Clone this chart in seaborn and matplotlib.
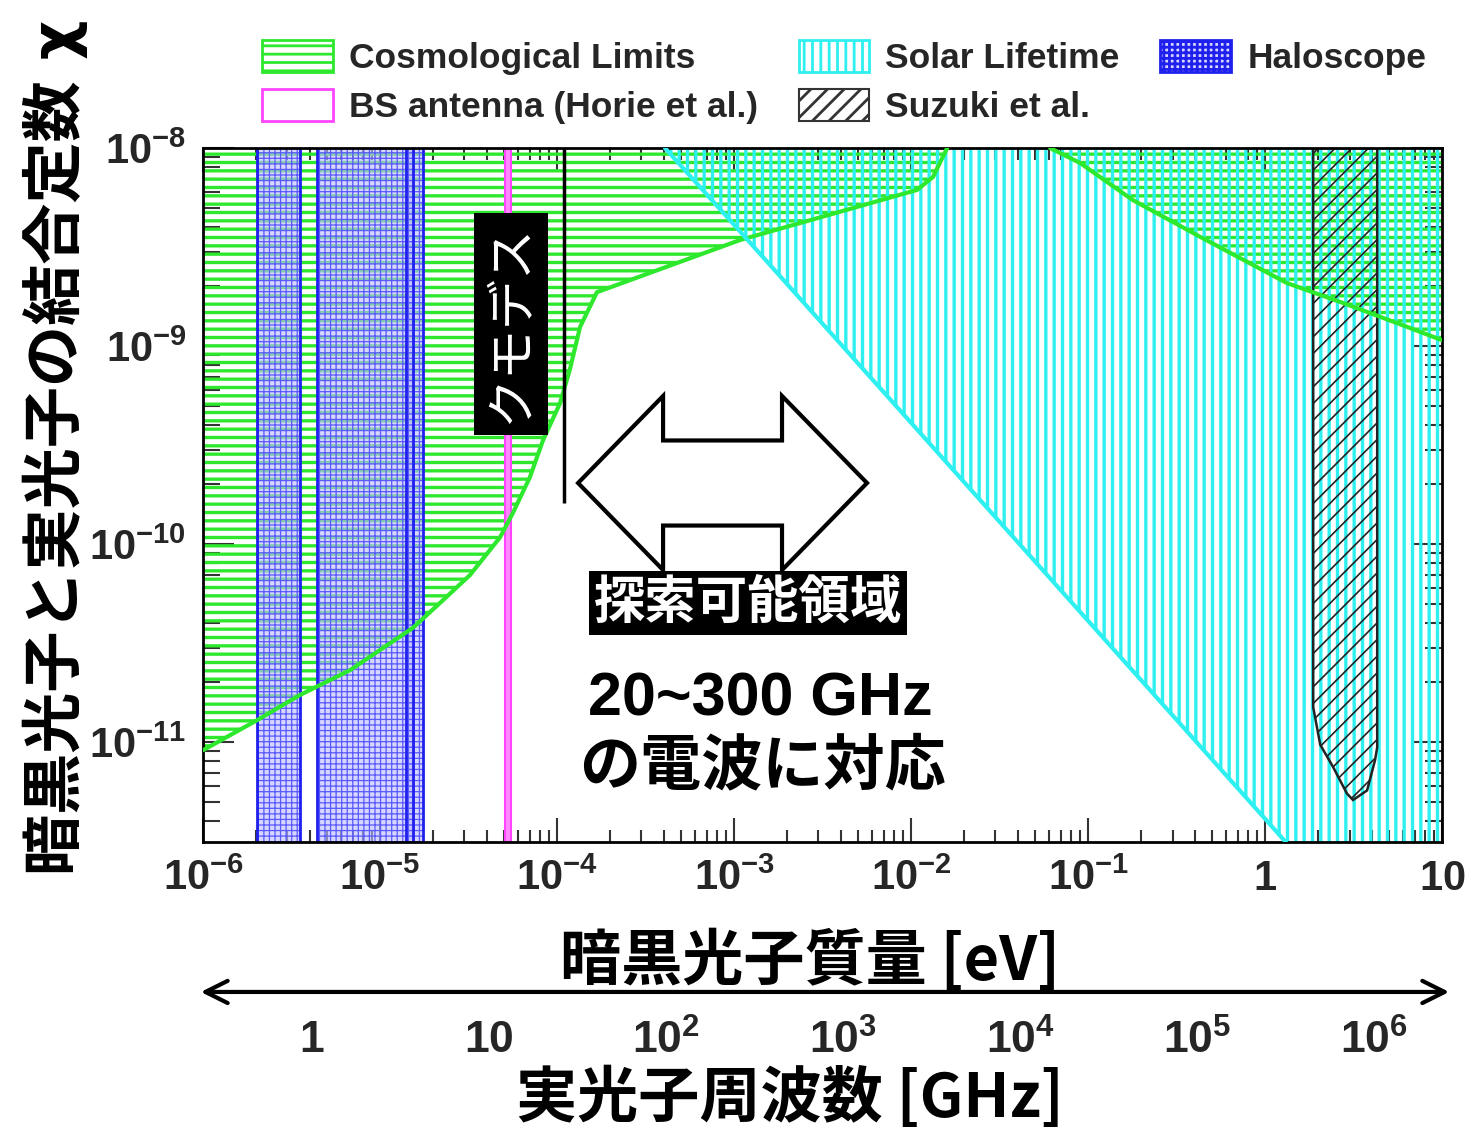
import numpy as np
import pandas as pd
import matplotlib.pyplot as plt
import seaborn as sns
from matplotlib.patches import Patch, Polygon, FancyArrowPatch
from matplotlib.ticker import LogLocator, NullFormatter, NullLocator, FixedLocator, FuncFormatter

# dark photon mass [eV] vs. kinetic mixing chi
cosmo1_m = [1.0e-6, 2.02e-6, 3.53e-6, 6.78e-6, 1.53e-5, 2.18e-5, 3.22e-5, 4.76e-5,
            5.64e-5, 7.03e-5, 8.34e-5, 1.04e-4, 1.18e-4, 1.35e-4, 1.68e-4,
            1.08e-3, 1.08e-2, 1.33e-2, 1.60e-2]
cosmo1_chi = [9.1e-12, 1.29e-11, 1.73e-11, 2.31e-11, 3.77e-11, 5.04e-11, 6.97e-11, 1.08e-10,
              1.44e-10, 2.18e-10, 3.35e-10, 5.15e-10, 7.57e-10, 1.25e-9, 1.87e-9,
              3.43e-9, 6.14e-9, 7.14e-9, 1.0e-8]

cosmo2_m = [6.10e-2, 9.02e-2, 0.179, 0.430, 1.33, 2.76, 6.34, 10.0]
cosmo2_chi = [1.0e-8, 8.4e-9, 5.46e-9, 3.56e-9, 2.08e-9, 1.65e-9, 1.25e-9, 1.07e-9]

solar_m = [4.07e-4, 1.0e-3, 1.0e-2, 1.0e-1, 1.0, 1.32, 10.0]
solar_chi = [1.0e-8, 4.1e-9, 4.1e-10, 4.1e-11, 4.1e-12, 3.1e-12, 3.1e-12]

halo_lo = [2.02e-6, 4.41e-6, 1.40e-5]
halo_hi = [3.53e-6, 1.53e-5, 1.75e-5]

bs_lo, bs_hi = 5.1e-5, 5.5e-5

suzuki_m = [1.87, 1.87, 2.05, 2.42, 2.90, 3.14, 3.77, 4.18, 4.30, 4.30]
suzuki_chi = [1.0e-8, 1.5e-11, 9.7e-12, 7.5e-12, 5.5e-12, 5.1e-12, 5.7e-12, 8.1e-12, 9.4e-12, 1.0e-8]

kumo_m, kumo_lo, kumo_hi = 1.1e-4, 1.62e-10, 1.0e-8

freq_ticks = [1, 10, 1e2, 1e3, 1e4, 1e5, 1e6]   # GHz
GHZ_TO_EV = 4.1357e-6

GREEN = '#2ee82e'
CYAN = '#2ef0f0'
BLUE = '#2020ee'
HALO_HATCH = '#5a5aff'
MAGENTA = '#ff44ff'
HALO_FACE = (0.74, 0.74, 1.0, 0.62)

sns.set_theme(style='ticks')
plt.rcParams['font.family'] = ['Liberation Sans', 'Noto Sans CJK JP', 'DejaVu Sans']
plt.rcParams['mathtext.fontset'] = 'custom'
plt.rcParams['mathtext.rm'] = 'Liberation Sans:bold'
plt.rcParams['mathtext.bf'] = 'Liberation Sans:bold'
plt.rcParams['mathtext.it'] = 'Liberation Sans:bold'
plt.rcParams['mathtext.default'] = 'bf'
plt.rcParams['hatch.linewidth'] = 2.0

JP = ['Noto Sans CJK JP', 'DejaVu Sans']


def hatch_width(artist, lw):
    if hasattr(artist, 'set_hatch_linewidth'):
        artist.set_hatch_linewidth(lw)
    return artist


fig = plt.figure(figsize=(14.7, 11.36), dpi=100)
ax = fig.add_axes([0.1381, 0.2588, 0.8429, 0.6109])
ax.set_xscale('log')
ax.set_yscale('log')
ax.set_xlim(1e-6, 10)
ax.set_ylim(3.13e-12, 1e-8)

# cosmological limits (two pieces)
for m, c in [(cosmo1_m, cosmo1_chi), (cosmo2_m, cosmo2_chi)]:
    hatch_width(ax.fill_between(m, c, 1e-8, facecolor='none', edgecolor=GREEN, hatch='--',
                                linewidth=0, zorder=1), 2.4)
    sns.lineplot(x=m, y=c, ax=ax, color=GREEN, lw=3, errorbar=None, zorder=3)

# solar lifetime
hatch_width(ax.fill_between(solar_m, solar_chi, 1e-8, facecolor='none', edgecolor=CYAN, hatch='||',
                            linewidth=0, zorder=1.1), 2.4)
sns.lineplot(x=solar_m[:6], y=solar_chi[:6], ax=ax, color=CYAN, lw=3, errorbar=None, zorder=3)

# haloscope bands
for lo, hi in zip(halo_lo, halo_hi):
    hatch_width(ax.axvspan(lo, hi, facecolor=HALO_FACE, edgecolor=HALO_HATCH, hatch='+++',
                           linewidth=0, zorder=1.2), 0.9)
    ax.axvline(lo, color=BLUE, lw=2, zorder=1.25)
    ax.axvline(hi, color=BLUE, lw=2, zorder=1.25)

# BS antenna
ax.axvspan(bs_lo, bs_hi, facecolor='#ff88ff', edgecolor=MAGENTA, linewidth=1.5, zorder=1.3)

# Suzuki et al.
hatch_width(ax.fill(suzuki_m, suzuki_chi, facecolor='none', edgecolor='#222222', hatch='//',
                    linewidth=1.8, zorder=1.4)[0], 1.2)

# kumodes limit line
ax.vlines(kumo_m, kumo_lo, kumo_hi, color='black', lw=2.5, zorder=4)

# ticks
ax.xaxis.set_major_locator(LogLocator(base=10, numticks=20))
ax.xaxis.set_minor_locator(LogLocator(base=10, subs=np.arange(2, 10), numticks=20))
ax.xaxis.set_minor_formatter(NullFormatter())
ax.yaxis.set_minor_formatter(NullFormatter())


def xfmt(v, pos):
    e = int(round(np.log10(v)))
    if e == 0:
        return '$1$'
    if e == 1:
        return '$10$'
    return '$10^{%d}$' % e


def yfmt(v, pos):
    return '$10^{%d}$' % int(round(np.log10(v)))


ax.xaxis.set_major_formatter(FuncFormatter(xfmt))
ax.yaxis.set_major_formatter(FuncFormatter(yfmt))
ax.tick_params(axis='both', which='both', direction='in', top=True, right=True, color='#333333', width=1.5)
ax.tick_params(axis='x', which='major', length=17, labelsize=30, pad=12)
ax.tick_params(axis='x', which='minor', length=8.5)
ax.tick_params(axis='y', which='major', length=22, labelsize=30, pad=12)
ax.tick_params(axis='y', which='minor', length=12)
for sp in ax.spines.values():
    sp.set_color('black')
    sp.set_linewidth(2)

ax.set_xlabel('暗黒光子質量 [eV]', family=JP, fontsize=44, weight='bold', color='black')
ax.xaxis.set_label_coords(0.49, -0.172)
ax.xaxis.label.set_va('center')
ax.set_ylabel('暗黒光子と実光子の結合定数 χ', family=['DejaVu Sans', 'Noto Sans CJK JP'],
              fontsize=44, weight='bold', color='black')
ax.yaxis.set_label_coords(-0.119, 0.569)
ax.yaxis.label.set_va('center')

# frequency axis
sec = ax.secondary_xaxis(-0.25, functions=(lambda m: m / GHZ_TO_EV, lambda f: f * GHZ_TO_EV))
sec.xaxis.set_major_locator(FixedLocator(freq_ticks))
sec.xaxis.set_minor_locator(NullLocator())
sec.xaxis.set_major_formatter(FuncFormatter(xfmt))
sec.tick_params(axis='x', length=0, labelsize=32, pad=3)
sec.spines['bottom'].set_visible(False)
sec.set_xlabel('実光子周波数 [GHz]', family=JP, fontsize=44, weight='bold', color='black')
sec.xaxis.set_label_coords(0.4738, -0.37, transform=ax.transAxes)
sec.xaxis.label.set_va('center')

fig.add_artist(FancyArrowPatch((198 / 1470, 0.1268), (1452 / 1470, 0.1268), transform=fig.transFigure,
                               arrowstyle='<->', mutation_scale=40, lw=3, color='black'))

# annotations
ax.text(0.2486, 0.7464, 'クモデス', transform=ax.transAxes, rotation=90, ha='center', va='center',
        color='white', fontsize=36, family=JP,
        bbox=dict(boxstyle='square,pad=0.22', fc='black', ec='none'), zorder=6)
ax.text(0.4399, 0.3444, '探索可能領域', transform=ax.transAxes, ha='center', va='center',
        color='white', fontsize=37, weight='bold', family=JP,
        bbox=dict(boxstyle='square,pad=0.1', fc='black', ec='none'), zorder=6)
ax.text(0.4496, 0.2046, '20~300 GHz', transform=ax.transAxes, ha='center', va='center',
        fontsize=44, weight='bold', color='black', zorder=6)
ax.text(0.4512, 0.108, 'の電波に対応', transform=ax.transAxes, ha='center', va='center',
        fontsize=44, weight='bold', family=JP, color='black', zorder=6)

# hollow double arrow (axes fraction)
cx, cy, half_len, head_len, shaft_h, head_h = 0.4193, 0.5173, 0.1166, 0.0686, 0.0613, 0.1254
arrow_pts = [(cx - half_len, cy), (cx - half_len + head_len, cy + head_h),
             (cx - half_len + head_len, cy + shaft_h), (cx + half_len - head_len, cy + shaft_h),
             (cx + half_len - head_len, cy + head_h), (cx + half_len, cy),
             (cx + half_len - head_len, cy - head_h), (cx + half_len - head_len, cy - shaft_h),
             (cx - half_len + head_len, cy - shaft_h), (cx - half_len + head_len, cy - head_h)]
ax.add_patch(Polygon(arrow_pts, closed=True, transform=ax.transAxes, facecolor='white',
                     edgecolor='black', lw=3, zorder=6, joinstyle='miter'))

# legend
handles = [
    Patch(facecolor='white', edgecolor=GREEN, hatch='--', lw=2, label='Cosmological Limits'),
    Patch(facecolor='white', edgecolor=MAGENTA, lw=2, label='BS antenna (Horie et al.)'),
    Patch(facecolor='white', edgecolor=CYAN, hatch='||', lw=2, label='Solar Lifetime'),
    Patch(facecolor='white', edgecolor='#333333', hatch='//', lw=1.5, label='Suzuki et al.'),
    Patch(facecolor=HALO_FACE, edgecolor=BLUE, hatch='+++', lw=2, label='Haloscope'),
]
fig.legend(handles=handles, ncol=3, loc='upper left', bbox_to_anchor=(262 / 1470, 1 - 40 / 1136),
           frameon=False, prop={'weight': 'bold', 'size': 25.5}, handlelength=2.0, handleheight=1.0,
           handletextpad=0.45, columnspacing=1.15, labelspacing=0.4, borderpad=0, borderaxespad=0)

fig.savefig('out.png', dpi=100)
